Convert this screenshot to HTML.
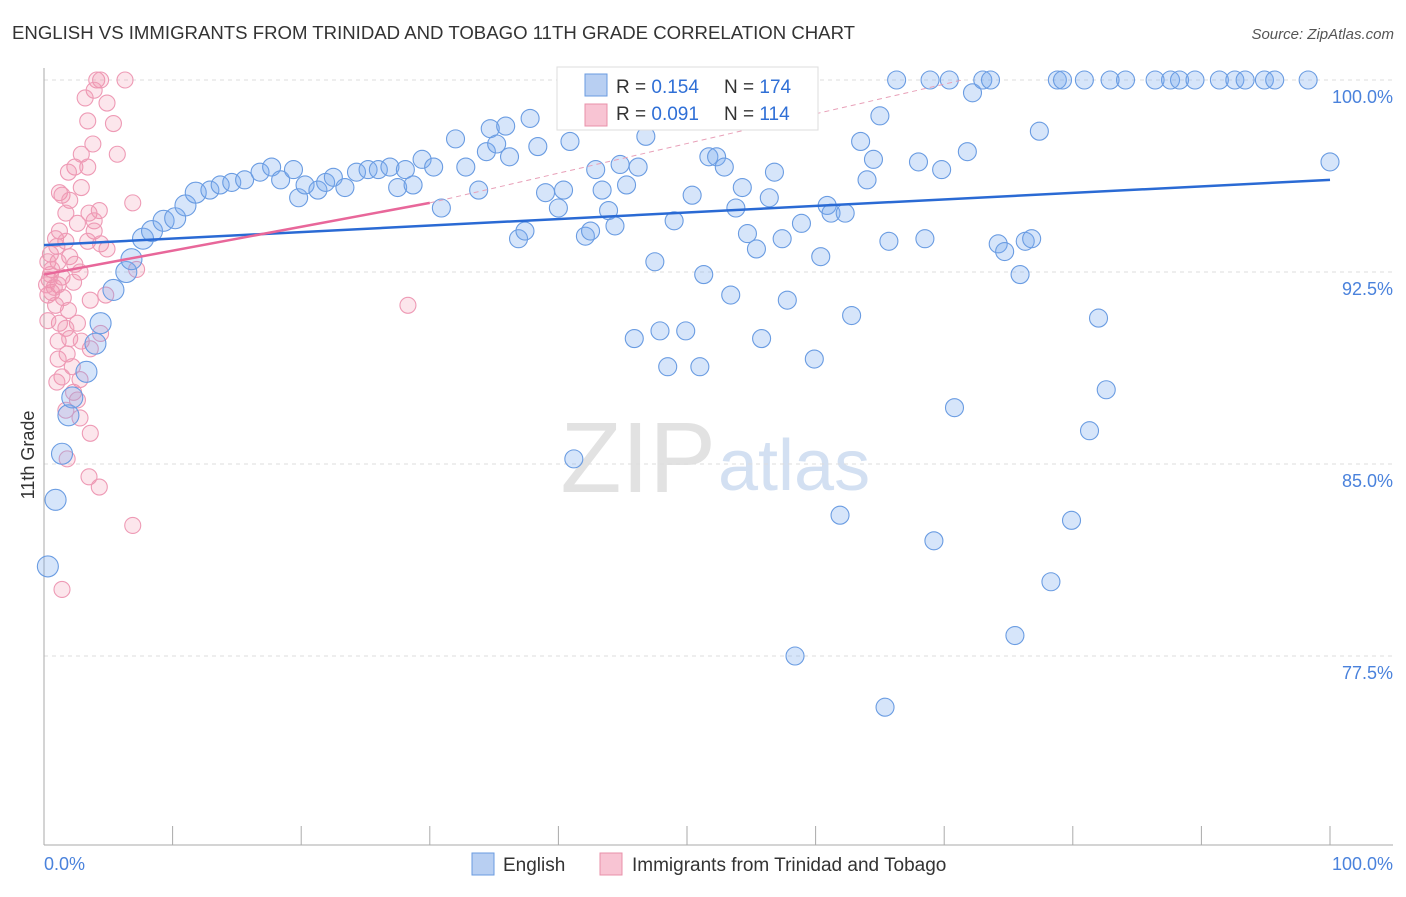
<!DOCTYPE html>
<html><head><meta charset="utf-8"><style>
body{margin:0;background:#fff;font-family:"Liberation Sans",sans-serif}
svg text{font-family:"Liberation Sans",sans-serif}
</style></head><body>
<svg id="chart" width="1406" height="892" xmlns="http://www.w3.org/2000/svg">
<text x="12" y="39" font-size="18.6" fill="#333">ENGLISH VS IMMIGRANTS FROM TRINIDAD AND TOBAGO 11TH GRADE CORRELATION CHART</text>
<text x="1394" y="39" font-size="15" fill="#555" font-style="italic" text-anchor="end">Source: ZipAtlas.com</text>
<text x="716" y="492" font-size="100" fill="#e2e2e2" text-anchor="end" font-family="Liberation Serif">ZIP</text>
<text x="718" y="490" font-size="72" fill="#d3e0f2">atlas</text>
<g id="grid"></g><g id="axes"></g><g id="pts"></g><g id="lines"></g>
<text transform="translate(34,455) rotate(-90)" font-size="18" fill="#333" text-anchor="middle">11th Grade</text>
<g>
<rect x="557" y="67" width="261" height="63" fill="#fff" stroke="#ddd"/>
<rect x="585" y="74" width="22" height="22" fill="#b8cff2" stroke="#6a9be0"/>
<rect x="585" y="104" width="22" height="22" fill="#f8c4d3" stroke="#e890aa"/>
<text x="616" y="93" font-size="19" fill="#333">R = <tspan fill="#2f6fd6">0.154</tspan></text>
<text x="724" y="93" font-size="19" fill="#333">N = <tspan fill="#2f6fd6">174</tspan></text>
<text x="616" y="120" font-size="19" fill="#333">R = <tspan fill="#2f6fd6">0.091</tspan></text>
<text x="724" y="120" font-size="19" fill="#333">N = <tspan fill="#2f6fd6">114</tspan></text>
</g>
<g>
<rect x="472" y="853" width="22" height="22" fill="#b8cff2" stroke="#6a9be0"/>
<text x="503" y="871" font-size="19" fill="#333">English</text>
<rect x="600" y="853" width="22" height="22" fill="#f8c4d3" stroke="#e890aa"/>
<text x="632" y="871" font-size="19" fill="#333">Immigrants from Trinidad and Tobago</text>
</g>
</svg>
<script>
const yTicks=[100,92.5,85,77.5];
const yTickLabels=["100.0%","92.5%","85.0%","77.5%"];
const xTickLabels=["0.0%","100.0%"];
const english=[[0.3,81.0],[0.9,83.6],[1.4,85.4],[1.9,86.9],[2.2,87.6],[3.3,88.6],[4.0,89.7],[4.4,90.5],[5.4,91.8],[6.4,92.5],[6.8,93.0],[7.7,93.8],[8.4,94.1],[9.3,94.5],[10.2,94.6],[11.0,95.1],[11.8,95.6],[12.9,95.7],[13.7,95.9],[14.6,96.0],[15.6,96.1],[16.8,96.4],[17.7,96.6],[18.4,96.1],[19.4,96.5],[19.8,95.4],[20.3,95.9],[21.3,95.7],[21.9,96.0],[22.5,96.2],[23.4,95.8],[24.3,96.4],[25.2,96.5],[26.0,96.5],[26.9,96.6],[27.5,95.8],[28.1,96.5],[28.7,95.9],[29.4,96.9],[30.3,96.6],[30.9,95.0],[32.0,97.7],[32.8,96.6],[33.8,95.7],[34.4,97.2],[34.7,98.1],[35.2,97.5],[35.9,98.2],[36.2,97.0],[36.9,93.8],[37.4,94.1],[37.8,98.5],[38.4,97.4],[39.0,95.6],[40.0,95.0],[40.4,95.7],[40.9,97.6],[41.2,85.2],[42.1,93.9],[42.5,94.1],[42.9,96.5],[43.4,95.7],[43.9,94.9],[44.4,94.3],[44.8,96.7],[45.3,95.9],[45.9,89.9],[46.2,96.6],[46.8,97.8],[47.5,92.9],[47.9,90.2],[48.5,88.8],[49.0,94.5],[49.9,90.2],[50.4,95.5],[51.0,88.8],[51.3,92.4],[51.7,97.0],[52.3,97.0],[52.9,96.6],[53.4,91.6],[53.8,95.0],[54.3,95.8],[54.7,94.0],[55.4,93.4],[55.8,89.9],[56.4,95.4],[56.8,96.4],[57.4,93.8],[57.8,91.4],[58.4,77.5],[58.9,94.4],[59.3,99.5],[59.9,89.1],[60.4,93.1],[60.9,95.1],[61.2,94.8],[61.9,83.0],[62.3,94.8],[62.8,90.8],[63.5,97.6],[64.0,96.1],[64.5,96.9],[65.0,98.6],[65.4,75.5],[65.7,93.7],[66.3,100],[68.0,96.8],[68.5,93.8],[68.9,100],[69.2,82.0],[69.8,96.5],[70.4,100],[70.8,87.2],[71.8,97.2],[72.2,99.5],[73.0,100],[73.6,100],[74.2,93.6],[74.7,93.3],[75.5,78.3],[75.9,92.4],[76.3,93.7],[76.8,93.8],[77.4,98.0],[78.3,80.4],[78.8,100],[79.2,100],[79.9,82.8],[80.9,100],[81.3,86.3],[82.0,90.7],[82.6,87.9],[82.9,100],[84.1,100],[86.4,100],[87.6,100],[88.3,100],[89.5,100],[91.4,100],[92.6,100],[93.4,100],[94.9,100],[95.7,100],[98.3,100],[100,96.8]];
const trinidad=[[4.1,100],[4.4,100],[6.3,100],[3.9,99.6],[3.2,99.3],[4.9,99.1],[5.4,98.3],[3.4,98.4],[3.8,97.5],[5.7,97.1],[2.9,97.1],[2.4,96.6],[3.4,96.6],[1.9,96.4],[2.9,95.8],[1.2,95.6],[1.4,95.5],[2.0,95.3],[6.9,95.2],[1.7,94.8],[3.5,94.8],[4.3,94.9],[2.6,94.4],[3.9,94.5],[3.9,94.1],[1.2,94.1],[0.9,93.8],[3.4,93.7],[1.7,93.7],[4.4,93.6],[4.9,93.4],[0.5,93.2],[2.0,93.1],[1.1,92.9],[0.3,92.9],[2.4,92.8],[0.6,92.6],[2.8,92.5],[1.4,92.3],[7.2,92.6],[0.4,92.2],[1.1,92.0],[2.3,92.1],[0.6,91.7],[0.3,91.6],[1.5,91.5],[4.8,91.6],[3.6,91.4],[0.9,91.2],[1.9,91.0],[1.2,90.5],[0.3,90.6],[2.6,90.5],[1.7,90.3],[1.1,89.8],[2.0,89.9],[4.4,90.1],[2.9,89.8],[1.8,89.3],[1.1,89.1],[3.6,89.5],[2.2,88.8],[1.4,88.4],[1.0,88.2],[2.8,88.3],[2.3,87.8],[2.6,87.5],[1.7,87.1],[2.8,86.8],[3.6,86.2],[1.8,85.2],[3.5,84.5],[4.3,84.1],[6.9,82.6],[1.4,80.1],[28.3,91.2],[0.5,92.4],[0.8,91.9],[0.2,92.0],[1.0,93.5]];
const englishTrend=[[0,93.55],[100,96.1]];
const trinidadTrend=[[0,92.4],[30,95.2]];
const trinidadTrendExt=[[30,95.2],[71.4,100]];
const NS="http://www.w3.org/2000/svg";
const X=v=>44+v*12.86, Y=v=>80+(100-v)*25.6;
function mk(t,a,p){const e=document.createElementNS(NS,t);for(const k in a)e.setAttribute(k,a[k]);p.appendChild(e);return e;}
const grid=document.getElementById('grid'),axes=document.getElementById('axes'),pts=document.getElementById('pts'),lines=document.getElementById('lines');
yTicks.forEach((t,i)=>{
 const g=mk('line',{x1:44,x2:1393,y1:Y(t),y2:Y(t),stroke:'#ddd','stroke-dasharray':'4,4'},grid);
 
 
 const l=mk('text',{x:1393,y:Y(t)+23,'font-size':18,fill:'#4a82dc','text-anchor':'end'},axes);
 l.textContent=yTickLabels[i];
 
 
});
mk('line',{x1:44,x2:44,y1:68,y2:845,stroke:'#aaa'},axes);
mk('line',{x1:44,x2:1393,y1:845,y2:845,stroke:'#aaa'},axes);
for(let i=0;i<=10;i++){const t=mk('line',{x1:X(i*10),x2:X(i*10),y1:826,y2:845,stroke:'#aaa'},axes);
 
 }
[[0,'start',44],[1,'end',1393]].forEach(([i,a,x])=>{const l=mk('text',{x:x,y:870,'font-size':18,fill:'#4a82dc','text-anchor':a},axes);l.textContent=xTickLabels[i];
 
 });
trinidad.forEach(d=>{const c=mk('circle',{cx:X(d[0]),cy:Y(d[1]),r:8,fill:'rgba(242,140,170,0.22)',stroke:'#ee9ab5','stroke-width':1.1},pts);
 
 });
english.forEach(d=>{const c=mk('circle',{cx:X(d[0]),cy:Y(d[1]),r:d[0]<12?10.5:9,fill:'rgba(120,168,238,0.3)',stroke:'#6a9ce2','stroke-width':1.1},pts);
 
 });
function ln(a,s,w,dash,name){const e=mk('line',{x1:X(a[0][0]),y1:Y(a[0][1]),x2:X(a[1][0]),y2:Y(a[1][1]),stroke:s,'stroke-width':w},lines);if(dash)e.setAttribute('stroke-dasharray',dash);
 
 }
ln(englishTrend,'#2a6ad4',2.5,null,'english-trend-line');
ln(trinidadTrend,'#e8679a',2.5,null,'trinidad-trend-line');
ln(trinidadTrendExt,'#e8a0b8',1,'5,4','trinidad-trend-extension');
</script>
</body></html>
